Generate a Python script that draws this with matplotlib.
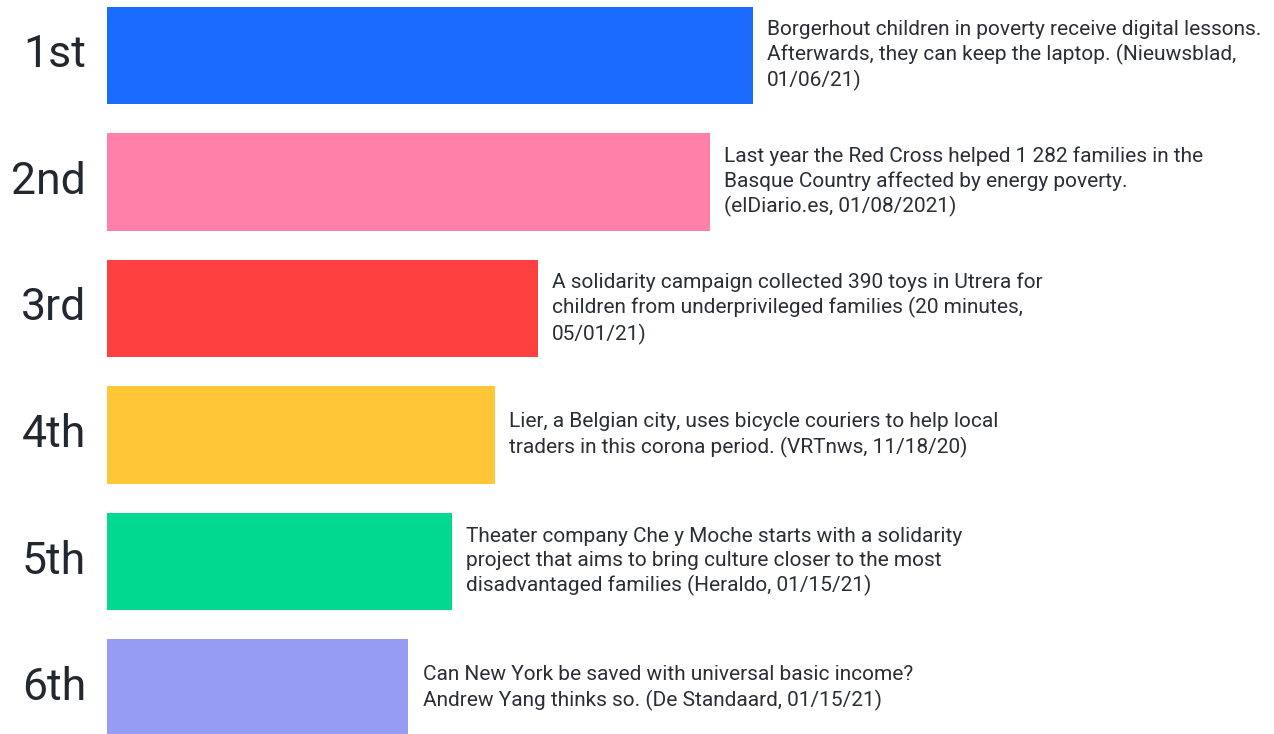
import matplotlib.pyplot as plt

# Data
ranks = ['1st', '2nd', '3rd', '4th', '5th', '6th']
values = [15, 14, 10, 9, 8, 7]
colors = ['#1c6bff', '#ff80a9', '#ff4040', '#ffc637', '#02d990', '#969bf4']
headlines = [
    'Borgerhout children in poverty receive digital lessons.\n'
    'Afterwards, they can keep the laptop. (Nieuwsblad,\n01/06/21)',
    'Last year the Red Cross helped 1 282 families in the\n'
    'Basque Country affected by energy poverty.\n(elDiario.es, 01/08/2021)',
    'A solidarity campaign collected 390 toys in Utrera for\n'
    'children from underprivileged families (20 minutes,\n05/01/21)',
    'Lier, a Belgian city, uses bicycle couriers to help local\n'
    'traders in this corona period. (VRTnws, 11/18/20)',
    'Theater company Che y Moche starts with a solidarity\n'
    'project that aims to bring culture closer to the most\n'
    'disadvantaged families (Heraldo, 01/15/21)',
    'Can New York be saved with universal basic income?\n'
    'Andrew Yang thinks so. (De Standaard, 01/15/21)',
]

plt.rcParams['font.family'] = ['Roboto', 'DejaVu Sans']

W, H = 1274, 734
fig = plt.figure(figsize=(W / 100, H / 100), dpi=100, facecolor='white')
left = 107 / W
ax = fig.add_axes([left, 0, 1 - left, 1])

ypos = list(range(len(ranks)))
ax.barh(ypos, values, height=0.767, color=colors)

ax.set_xlim(0, 27.1)
ax.set_ylim(5.3636, -0.4387)
ax.axis('off')

txt_color = '#2a2e36'
for y, v, lab, head in zip(ypos, values, ranks, headlines):
    ax.text(v + 0.33, y, head, ha='left', va='center', fontsize=15,
            color=txt_color, linespacing=1.32)
    ax.text(-0.49, y, lab, ha='right', va='center', fontsize=32,
            color='#23272f')

fig.savefig('out.png', dpi=100)
